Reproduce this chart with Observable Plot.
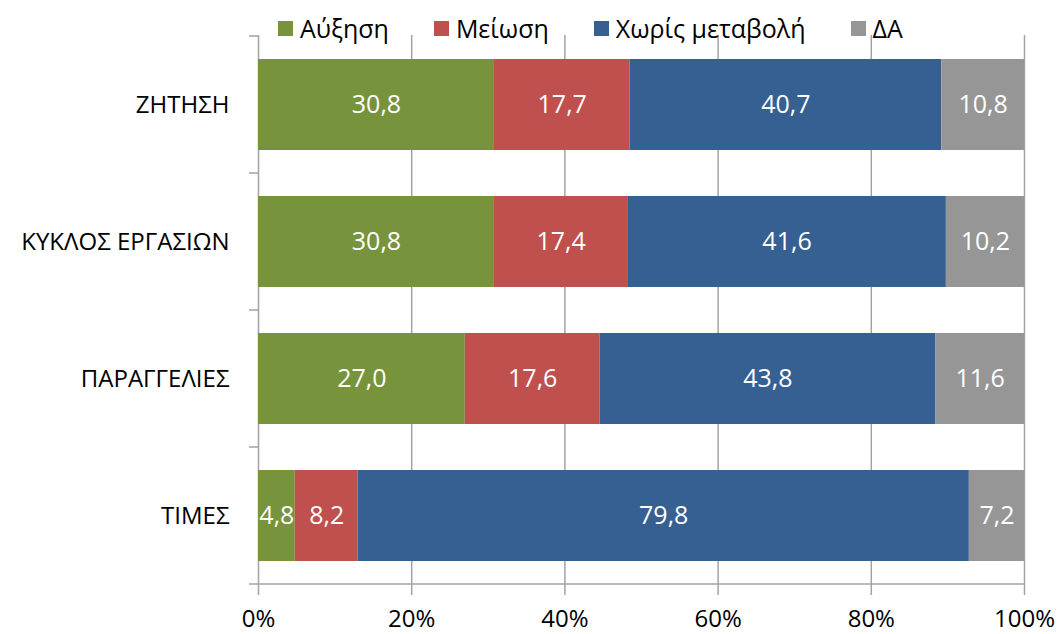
<!DOCTYPE html>
<html><head><meta charset="utf-8">
<script src="https://cdn.jsdelivr.net/npm/d3@7"></script>
<script src="https://cdn.jsdelivr.net/npm/@observablehq/plot@0.6"></script>
<style>
html,body{margin:0;padding:0;background:#fff;}
#wrap{position:relative;width:1060px;height:634px;font-family:"Open Sans",sans-serif;}
#legend{position:absolute;left:278px;top:13px;display:flex;gap:45px;font-size:25px;line-height:30px;color:#000;z-index:2;white-space:nowrap;}
.item{display:flex;align-items:center;}
.sw{width:15px;height:15px;margin-right:7px;flex:none;}
#wrap svg{display:block;}
</style></head><body><div id="wrap"><div id="legend"></div></div>
<script>
const categories = ["ΖΗΤΗΣΗ", "ΚΥΚΛΟΣ ΕΡΓΑΣΙΩΝ", "ΠΑΡΑΓΓΕΛΙΕΣ", "ΤΙΜΕΣ"];
const seriesNames = ["Αύξηση", "Μείωση", "Χωρίς μεταβολή", "ΔΑ"];
const seriesColors = ["#77933C", "#C0504D", "#376092", "#969696"];
const increase = [30.8, 30.8, 27.0, 4.8];
const decrease = [17.7, 17.4, 17.6, 8.2];
const noChange = [40.7, 41.6, 43.8, 79.8];
const noAnswer = [10.8, 10.2, 11.6, 7.2];
const xTicks = [0, 20, 40, 60, 80, 100];

const seriesValues = [increase, decrease, noChange, noAnswer];
const data = [];
categories.forEach((c, i) => {
  seriesNames.forEach((s, j) => data.push({cat: c, series: s, value: seriesValues[j][i]}));
});
const fmt = v => v.toFixed(1).replace(".", ",");

// legend
const legend = document.getElementById("legend");
seriesNames.forEach((s, j) => {
  const it = document.createElement("div"); it.className = "item";
  const sw = document.createElement("span"); sw.className = "sw"; sw.style.background = seriesColors[j];
  const tx = document.createElement("span"); tx.textContent = s;
  it.appendChild(sw); it.appendChild(tx); legend.appendChild(it);
});

const gridColor = "#a3a3a3";
const chart = Plot.plot({
  width: 1060,
  height: 634,
  marginTop: 35,
  marginBottom: 48,
  marginLeft: 258,
  marginRight: 36,
  style: {fontFamily: "'Open Sans', sans-serif", fontSize: "24px", background: "white", color: "black"},
  x: {domain: [0, 100], ticks: xTicks, tickFormat: d => d + "%", label: null},
  y: {domain: categories, paddingInner: 0.335, paddingOuter: 0.1675, label: null},
  color: {domain: seriesNames, range: seriesColors},
  marks: [
    Plot.ruleX(xTicks.slice(1), {stroke: gridColor, strokeWidth: 1.5}),
    Plot.ruleX([0], {stroke: gridColor, strokeWidth: 1.5}),
    Plot.barX(data, Plot.stackX({y: "cat", x: "value", fill: "series"})),
    Plot.textX(data, Plot.stackX({y: "cat", x: "value", text: d => fmt(d.value), fill: "white", fontSize: 25})),
    Plot.axisX({ticks: xTicks, tickFormat: d => d + "%", tickSize: 9, tickPadding: 14, stroke: gridColor, strokeWidth: 1.5, fill: "black", fontSize: 24, label: null}),
    Plot.axisY({tickSize: 0, tickPadding: 29, fill: "black", fontSize: 24, label: null})
  ]
});
document.getElementById("wrap").appendChild(chart);

// category boundary ticks and bottom axis line, from the plot's own scales
const ys = chart.scale("y"), xs = chart.scale("x");
const bw = ys.bandwidth, step = ys.step;
const half = (step - bw) / 2;
const bounds = categories.map(c => ys.apply(c) - half).concat([ys.apply(categories[categories.length - 1]) + bw + half]);
const x0 = xs.apply(0), x1 = xs.apply(100);
const g = d3.select(chart).append("g").attr("stroke", gridColor).attr("stroke-width", 1.5);
g.selectAll("line.yt").data(bounds).join("line").attr("class", "yt")
  .attr("x1", x0 - 9).attr("x2", x0).attr("y1", d => d).attr("y2", d => d);
g.append("line").attr("x1", x0).attr("x2", x1).attr("y1", bounds[bounds.length - 1]).attr("y2", bounds[bounds.length - 1]);
</script></body></html>
